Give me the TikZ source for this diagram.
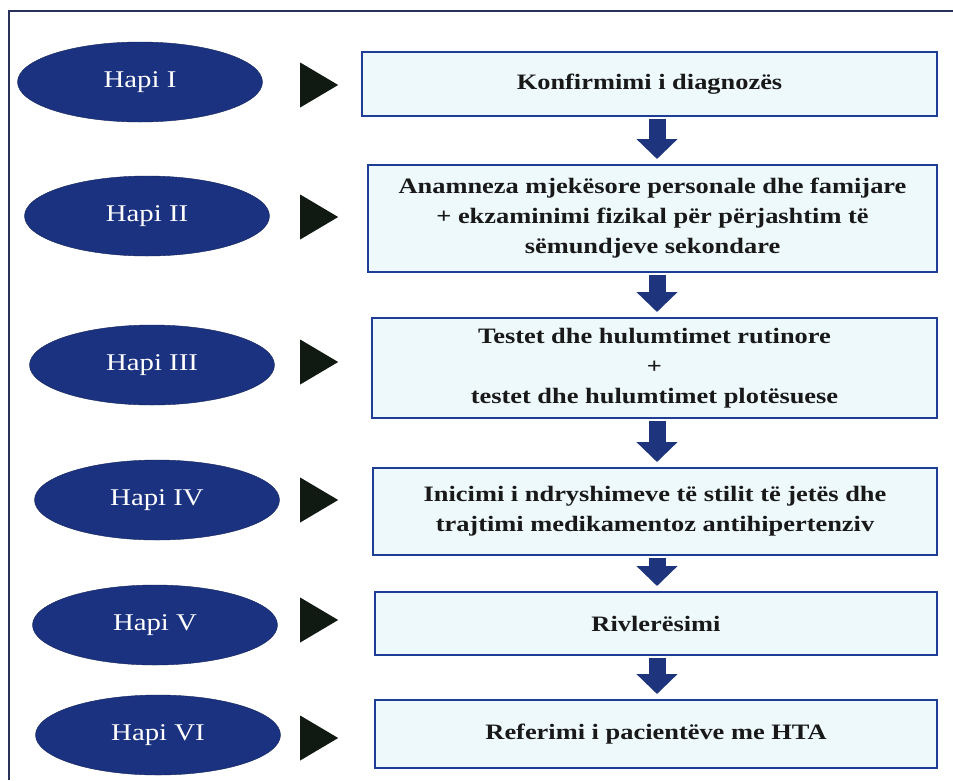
\documentclass[tikz,border=0pt]{standalone}
\usepackage{fontspec}
\setmainfont{Liberation Serif}[FakeStretch=1.2]
\usetikzlibrary{positioning,shapes.geometric,arrows.meta}
\definecolor{hapiblue}{RGB}{27,50,128}
\definecolor{boxline}{RGB}{30,62,150}
\definecolor{boxfill}{RGB}{238,249,252}
\definecolor{arrowblue}{RGB}{30,52,125}
\definecolor{pointercol}{RGB}{16,26,18}
\definecolor{frameline}{RGB}{40,50,90}

\begin{document}
\begin{tikzpicture}[x=1pt,y=-1pt,
    hapi/.style={ellipse,fill=hapiblue,draw=hapiblue!70!black,minimum width=245pt,minimum height=80pt,
        inner sep=0,text=white,font=\fontsize{24}{28}\selectfont},
    pointer/.style={isosceles triangle,isosceles triangle stretches,fill=pointercol,
        minimum width=45pt,minimum height=38pt,inner sep=0},
    stepbox/.style={draw=boxline,line width=2pt,fill=boxfill,align=center,inner sep=0,
        font=\bfseries\fontsize{22}{30}\selectfont,text=black!90},
    down/.style={arrowblue,line width=17pt,-{Triangle[length=20pt,width=40pt]},shorten <=2pt,shorten >=5pt}
]
\useasboundingbox (0,0) rectangle (953,780);

\draw[frameline,line width=1.2pt] (953,11) -- (9,11) -- (9,780);

\foreach \n/\x/\y/\ty/\lab in {1/140/82/85/I,2/147/216/217/II,3/152/365/362/III,
    4/157/500/500/IV,5/155/625/620/V,6/158/735/738/VI}{
  \node[hapi] (h\n) at (\x,\y) {Hapi \lab};
  \node[pointer] (t\n) at (313,\ty) {};
}

\node[stepbox,minimum width=575pt,minimum height=64pt] (b1) at (649.5,84)
  {Konfirmimi i diagnozës};
\node[stepbox,minimum width=569pt,minimum height=107pt] (b2) at (652.5,218.5)
  {Anamneza mjekësore personale dhe famijare\\+ ekzaminimi fizikal për përjashtim të\\sëmundjeve sekondare};
\node[stepbox,minimum width=565pt,minimum height=100pt] (b3) at (654.5,368)
  {Testet dhe hulumtimet rutinore\\+\\testet dhe hulumtimet plotësuese};
\node[stepbox,minimum width=564pt,minimum height=87pt] (b4) at (655,511.5)
  {Inicimi i ndryshimeve të stilit të jetës dhe\\trajtimi medikamentoz antihipertenziv};
\node[stepbox,minimum width=562pt,minimum height=63pt] (b5) at (656,623.5)
  {Rivlerësimi};
\node[stepbox,minimum width=562pt,minimum height=68pt] (b6) at (656,734)
  {Referimi i pacientëve me HTA};

\coordinate (ax) at (657,0);
\foreach \a/\b in {1/2,2/3,3/4,4/5,5/6}{
  \draw[down] (b\a.south -| ax) to (b\b.north -| ax);
}

\end{tikzpicture}
\end{document}
